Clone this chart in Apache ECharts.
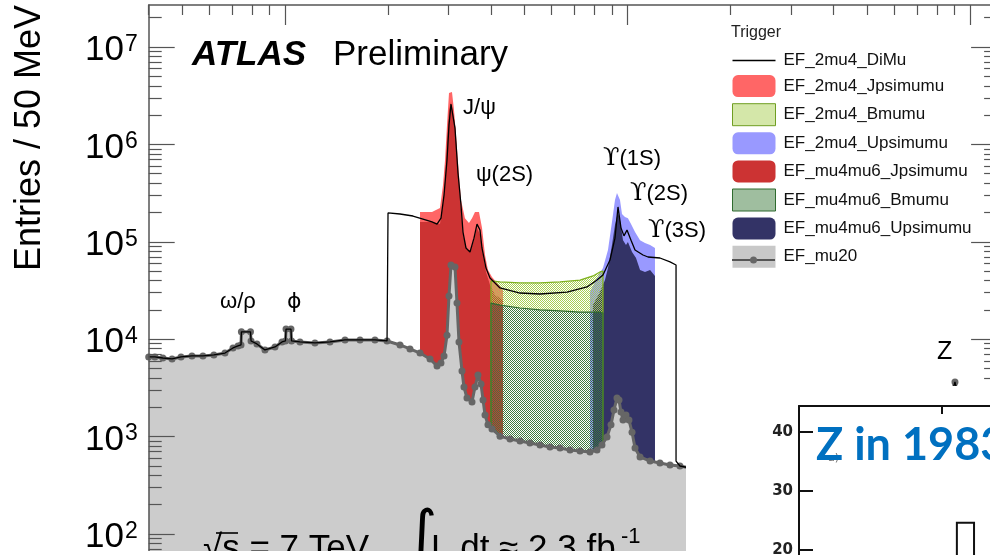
<!DOCTYPE html>
<html>
<head>
<meta charset="utf-8">
<title>Dimuon invariant mass spectrum by trigger</title>
<script src="https://cdn.jsdelivr.net/npm/echarts@6.0.0/dist/echarts.min.js"></script>
<style>
  html, body { margin: 0; padding: 0; background: #fff; }
  #chart { width: 990px; height: 555px; }
</style>
</head>
<body>
<div id="chart"></div>
<script>
// ---------------------------------------------------------------
// Dimuon invariant mass [GeV] vs entries / 50 MeV, one list per trigger
// ---------------------------------------------------------------
const efMu20 = [
  [0.40, 6570], [0.417, 6570], [0.440, 6410], [0.468, 6270], [0.497, 6570], [0.535, 6730],
  [0.576, 6730], [0.620, 6890], [0.668, 7210], [0.705, 8130], [0.729, 8520], [0.744, 8730],
  [0.746, 11900], [0.793, 11900], [0.796, 9590], [0.828, 8940], [0.874, 7750], [0.935, 8320],
  [0.980, 9370], [1.003, 9590], [1.007, 12700], [1.041, 12700], [1.045, 9590], [1.106, 9370],
  [1.223, 9150], [1.353, 9370], [1.497, 9820], [1.656, 9820], [1.831, 9820], [1.986, 9590],
  [2.167, 8730], [2.317, 7950], [2.479, 7210], [2.651, 6270], [2.779, 5310], [2.854, 5700],
  [2.913, 6730], [2.972, 11000], [3.012, 27800], [3.053, 57800], [3.136, 55100], [3.178, 23500],
  [3.221, 9370], [3.287, 4720], [3.331, 3230], [3.399, 2490], [3.516, 2270], [3.587, 3230],
  [3.660, 4280], [3.735, 3470], [3.786, 2380], [3.837, 1670], [3.914, 1320], [4.021, 1200],
  [4.244, 1010], [4.539, 944], [4.855, 901], [5.19, 859], [5.554, 819], [5.94, 782],
  [6.354, 764], [6.796, 728], [7.268, 711], [7.771, 695], [8.146, 728], [8.423, 819],
  [8.713, 991], [8.951, 1320], [9.133, 1880], [9.318, 2490], [9.445, 2380], [9.572, 1790],
  [9.703, 1480], [9.900, 1670], [10.10, 1480], [10.31, 1110], [10.52, 764], [10.88, 618],
  [11.64, 561], [12.44, 536], [13.31, 511], [14.23, 499], [15.22, 476], [18.6, 434],
  [24.4, 376], [31.9, 326], [44.6, 283], [58.4, 318], [71.5, 575], [81.7, 1170],
  [87.4, 2380], [90.4, 3640], [93.5, 2110], [98.7, 728], [107, 358], [120, 283]
];

const ef2mu4DiMu = [
  [0.40, 6570], [0.417, 6570], [0.440, 6410], [0.468, 6270], [0.497, 6570], [0.535, 6730],
  [0.576, 6730], [0.620, 6890], [0.668, 7210], [0.705, 8130], [0.729, 8520], [0.744, 8730],
  [0.746, 11900], [0.793, 11900], [0.796, 9590], [0.828, 8940], [0.874, 7750], [0.935, 8320],
  [0.980, 9370], [1.003, 9590], [1.007, 12700], [1.041, 12700], [1.045, 9590], [1.106, 9370],
  [1.223, 9150], [1.353, 9370], [1.497, 9820], [1.656, 9820], [1.831, 9820], [1.986, 9590],
  [1.999, 9590], [1.999, 198000], [2.167, 193000], [2.364, 184000], [2.529, 171000],
  [2.687, 160000], [2.779, 152000], [2.854, 175000], [2.913, 302000], [2.972, 692000],
  [3.012, 1580000], [3.053, 2600000], [3.094, 2600000], [3.136, 1470000], [3.200, 508000],
  [3.265, 239000], [3.309, 126000], [3.376, 86400], [3.469, 78600], [3.563, 109000],
  [3.636, 152000], [3.710, 132000], [3.760, 86400], [3.863, 53800], [3.968, 42500],
  [4.244, 33600], [4.855, 29800], [5.554, 29100], [6.66, 30500], [7.62, 34400],
  [8.146, 40500], [8.481, 45600], [8.889, 65000], [9.194, 109000], [9.382, 228000],
  [9.572, 139000], [9.768, 115000], [9.967, 132000], [10.24, 104000], [10.52, 82400],
  [11.10, 73200], [11.48, 69800], [12.44, 68200], [13.31, 62100], [13.86, 57800],
  [13.86, 561], [14.23, 499], [15.22, 476], [18.6, 434], [24.4, 376], [31.9, 326],
  [44.6, 283], [58.4, 318], [71.5, 575], [81.7, 1170], [87.4, 2380], [90.4, 3640],
  [93.5, 2110], [98.7, 728], [107, 358], [120, 283]
];

const ef2mu4Jpsimumu = [
  [2.479, 202000], [2.687, 202000], [2.835, 222000], [2.893, 383000], [2.933, 692000],
  [2.972, 1580000], [3.012, 3370000], [3.073, 3450000], [3.115, 2260000], [3.157, 1250000],
  [3.221, 485000], [3.265, 269000], [3.353, 175000], [3.445, 156000], [3.516, 175000],
  [3.587, 202000], [3.685, 202000], [3.760, 139000], [3.837, 73200], [3.914, 51300],
  [4.021, 43500], [4.159, 37800], [4.331, 32000]
];

const efMu4mu6Jpsimumu = [
  [2.479, 160000], [2.687, 160000], [2.835, 152000], [2.893, 239000], [2.933, 431000],
  [2.972, 1110000], [3.012, 2260000], [3.053, 2720000], [3.094, 2660000], [3.136, 1580000],
  [3.200, 521000], [3.265, 212000], [3.309, 118000], [3.399, 82400], [3.492, 82400],
  [3.563, 104000], [3.636, 139000], [3.710, 118000], [3.786, 73200], [3.863, 49000],
  [3.968, 36000], [4.104, 28400], [4.331, 25300]
];

const ef2mu4Upsimumu = [
  [7.771, 30500], [8.146, 42500], [8.481, 53800], [8.771, 82400], [9.010, 160000],
  [9.194, 269000], [9.318, 317000], [9.509, 269000], [9.637, 193000], [9.834, 180000],
  [10.03, 175000], [10.24, 152000], [10.52, 126000], [10.88, 104000], [11.25, 97200],
  [11.64, 92700], [12.03, 86400]
];

const efMu4mu6Upsimumu = [
  [7.930, 22400], [8.311, 30500], [8.596, 40500], [8.771, 53800], [9.010, 92700],
  [9.194, 149000], [9.382, 202000], [9.509, 167000], [9.703, 104000], [9.900, 92700],
  [10.03, 99500], [10.31, 78600], [10.59, 68200], [10.88, 51300], [11.25, 49000],
  [11.64, 51300], [12.03, 44600]
];

const ef2mu4Bmumu = [
  [3.995, 100], [3.995, 39600], [4.244, 38700], [4.855, 37800], [5.554, 37800],
  [6.354, 38700], [7.268, 40500], [7.930, 44600], [8.311, 49000], [8.481, 50100], [8.481, 100]
];

const efMu4mu6Bmumu = [
  [3.995, 100], [3.995, 23500], [4.244, 22400], [4.855, 20900], [5.554, 20000],
  [6.354, 19500], [7.268, 19000], [8.311, 19000], [8.481, 18600], [8.481, 100]
];

// Resonance names with the mass / entries level their label sits at
const resonanceLabels = [
  ['ω/ρ', 0.646, 24100],
  ['ϕ', 1.013, 24100],
  ['J/ψ', 3.31, 2390000],
  ['ψ(2S)', 3.61, 491000],
  ['ϒ(1S)', 8.48, 708000],
  ['ϒ(2S)', 10.17, 310000],
  ['ϒ(3S)', 11.48, 129000],
  ['Z', 80.1, 7290]
];

// Axis ticks
const yMajorTicks = [1e2, 1e3, 1e4, 1e5, 1e6, 1e7];
const yMajorExponents = ['2', '3', '4', '5', '6', '7'];
const xMajorTicks = [1, 10, 100];

// 1983 inset: tick values and one histogram bin [low, high, count]
const insetTicks = [0, 10, 20, 30, 40];
const insetBins = [[55.2, 61.2, 24.6]];

// ---------------------------------------------------------------
const MASS_MIN = 0.4, MASS_MAX = 120;
const Y_MIN = Math.pow(10, 1.8255), Y_MAX = Math.pow(10, 7.4312);
const FRAME = '#555';
const SANS = 'Liberation Sans';

// drawing order (higher z on top)
const Z_FILL = 2, Z_MU20 = 3, Z_DIMU = 4, Z_LABELS = 5, Z_AXES = 6, Z_TEXT = 20, Z_COVER = 21, Z_INSET = 30;

function minorLogTicks(lo, hi) {
  const out = [];
  for (let d = Math.floor(Math.log10(lo)); d <= Math.ceil(Math.log10(hi)); d++) {
    for (let k = 2; k <= 9; k++) {
      const v = +(k * Math.pow(10, d)).toPrecision(3);
      if (v >= lo && v <= hi) out.push(v);
    }
  }
  return out;
}
const yMinorTicks = minorLogTicks(Y_MIN, Y_MAX);
const xMinorTicks = minorLogTicks(MASS_MIN, MASS_MAX);

function exponentOf(v) {
  for (let i = 0; i < yMajorTicks.length; i++) {
    if (Math.abs(Math.log10(v) - Math.log10(yMajorTicks[i])) < 0.01) return yMajorExponents[i];
  }
  return '';
}

// fine checkerboard fills for the B-physics triggers
function checker(color) {
  const c = document.createElement('canvas');
  c.width = 2; c.height = 2;
  const g = c.getContext('2d');
  g.fillStyle = color;
  g.fillRect(0, 0, 1, 1);
  g.fillRect(1, 1, 1, 1);
  return { image: c, repeat: 'repeat' };
}
const bLight = checker('#a8cf52');
const bDark = checker('#3f7c3f');

function logAxis(extra) {
  return Object.assign({
    type: 'log', logBase: 10, gridIndex: 0, z: Z_AXES,
    splitLine: { show: false }, axisLabel: { show: false }
  }, extra);
}

function fillSeries(name, data, color) {
  return {
    name, type: 'line', data, color, z: Z_FILL, symbol: 'none', showSymbol: false, silent: true,
    lineStyle: { width: 0 }, areaStyle: { color, opacity: 1, origin: 'start' },
    emphasis: { disabled: true }
  };
}

const chart = echarts.init(document.getElementById('chart'), null, { renderer: 'canvas' });

chart.setOption({
  animation: false,
  backgroundColor: '#fff',
  grid: [
    { left: 148.7, top: 5, width: 848.4, height: 546, containLabel: false, outerBoundsMode: 'none' },
    { left: 799, top: 406, width: 286, height: 262, containLabel: false, outerBoundsMode: 'none' }
  ],
  title: {
    text: 'Trigger', left: 731, top: 25, padding: 0,
    textStyle: { fontSize: 16, fontWeight: 'normal', fontFamily: SANS, color: '#222' }
  },
  legend: {
    orient: 'vertical', left: 732, top: 52, padding: 0,
    itemWidth: 43, itemHeight: 22, itemGap: 6.1,
    selectedMode: false, symbolKeepAspect: true,
    textStyle: { fontSize: 17, fontFamily: SANS, color: '#111', padding: [0, 0, 0, 3] },
    data: [
      { name: 'EF_2mu4_DiMu', icon: 'path://M0,0H43V1.3H0Z', itemStyle: { color: '#000', borderWidth: 0 } },
      { name: 'EF_2mu4_Jpsimumu', icon: 'roundRect', itemStyle: { color: '#ff6666', borderWidth: 0 } },
      { name: 'EF_2mu4_Bmumu', icon: 'rect', itemStyle: { color: bLight, borderColor: '#6f9e22', borderWidth: 1 } },
      { name: 'EF_2mu4_Upsimumu', icon: 'roundRect', itemStyle: { color: '#9999ff', borderWidth: 0 } },
      { name: 'EF_mu4mu6_Jpsimumu', icon: 'roundRect', itemStyle: { color: '#cc3333', borderWidth: 0 } },
      { name: 'EF_mu4mu6_Bmumu', icon: 'rect', itemStyle: { color: bDark, borderColor: '#2f6b2f', borderWidth: 1 } },
      { name: 'EF_mu4mu6_Upsimumu', icon: 'roundRect', itemStyle: { color: '#333366', borderWidth: 0 } },
      { name: 'EF_mu20', icon: 'rect', itemStyle: { color: '#c8c8c8', borderWidth: 0 } }
    ]
  },
  xAxis: [
    logAxis({
      position: 'top', min: MASS_MIN, max: MASS_MAX,
      axisLine: { show: true, onZero: false, lineStyle: { color: FRAME, width: 1.5 } },
      axisTick: { show: true, inside: true, length: 20, customValues: xMajorTicks, lineStyle: { color: FRAME, width: 1.2 } }
    }),
    logAxis({
      position: 'top', min: MASS_MIN, max: MASS_MAX,
      axisLine: { show: false },
      axisTick: { show: true, inside: true, length: 10, customValues: xMinorTicks, lineStyle: { color: FRAME, width: 1.2 } }
    }),
    {
      type: 'value', gridIndex: 1, position: 'top', min: 0, max: 100, z: Z_INSET,
      axisLine: { show: true, onZero: false, lineStyle: { color: '#111', width: 2 } },
      axisTick: { show: true, inside: true, length: 8, customValues: [50], lineStyle: { color: '#111', width: 2 } },
      axisLabel: { show: false }, splitLine: { show: false }
    }
  ],
  yAxis: [
    logAxis({
      position: 'left', min: Y_MIN, max: Y_MAX,
      axisLine: { show: true, onZero: false, lineStyle: { color: FRAME, width: 1.5 } },
      axisTick: { show: true, inside: true, length: 26, customValues: yMajorTicks, lineStyle: { color: FRAME, width: 1.2 } },
      axisLabel: {
        show: true, customValues: yMajorTicks, margin: 11, padding: [7, 0, 0, 0],
        formatter: v => '{b|10}{e|' + exponentOf(v) + '}',
        rich: {
          b: { fontSize: 35, fontFamily: SANS, color: '#000', lineHeight: 35, verticalAlign: 'bottom' },
          e: { fontSize: 23, fontFamily: SANS, color: '#000', lineHeight: 17, verticalAlign: 'top', padding: [0, 0, 0, 1] }
        }
      }
    }),
    logAxis({
      position: 'left', min: Y_MIN, max: Y_MAX, axisLine: { show: false },
      axisTick: { show: true, inside: true, length: 13, customValues: yMinorTicks, lineStyle: { color: FRAME, width: 1.2 } }
    }),
    logAxis({
      position: 'right', min: Y_MIN, max: Y_MAX,
      axisLine: { show: true, onZero: false, lineStyle: { color: FRAME, width: 1.5 } },
      axisTick: { show: true, inside: true, length: 26, customValues: yMajorTicks, lineStyle: { color: FRAME, width: 1.2 } }
    }),
    logAxis({
      position: 'right', min: Y_MIN, max: Y_MAX, axisLine: { show: false },
      axisTick: { show: true, inside: true, length: 13, customValues: yMinorTicks, lineStyle: { color: FRAME, width: 1.2 } }
    }),
    {
      type: 'value', gridIndex: 1, position: 'left', min: 0, max: 44.4, z: Z_INSET,
      axisLine: { show: true, onZero: false, lineStyle: { color: '#111', width: 2 } },
      axisTick: { show: true, inside: true, length: 14, customValues: insetTicks, lineStyle: { color: '#111', width: 2 } },
      axisLabel: { show: true, customValues: insetTicks, margin: 6, color: '#222', fontFamily: 'DejaVu Sans', fontWeight: 'bold', fontSize: 15 },
      splitLine: { show: false }
    }
  ],
  series: [
    fillSeries('EF_2mu4_Jpsimumu', ef2mu4Jpsimumu, '#ff6666'),
    fillSeries('EF_mu4mu6_Jpsimumu', efMu4mu6Jpsimumu, '#cc3333'),
    fillSeries('EF_2mu4_Upsimumu', ef2mu4Upsimumu, '#9999ff'),
    fillSeries('EF_mu4mu6_Upsimumu', efMu4mu6Upsimumu, '#333366'),
    {
      name: 'EF_2mu4_Bmumu', type: 'line', data: ef2mu4Bmumu, color: '#7fb21f', z: Z_FILL,
      symbol: 'none', showSymbol: false, silent: true, emphasis: { disabled: true },
      lineStyle: { color: '#7fb21f', width: 1.3 }, areaStyle: { color: bLight, opacity: 1, origin: 'start' }
    },
    {
      name: 'EF_mu4mu6_Bmumu', type: 'line', data: efMu4mu6Bmumu, color: '#2f6b2f', z: Z_FILL,
      symbol: 'none', showSymbol: false, silent: true, emphasis: { disabled: true },
      lineStyle: { color: '#2f6b2f', width: 1.2 }, areaStyle: { color: bDark, opacity: 1, origin: 'start' }
    },
    {
      name: 'EF_mu20', type: 'line', data: efMu20, color: '#666', z: Z_MU20,
      symbol: 'circle', symbolSize: 7, showSymbol: true, silent: true, emphasis: { disabled: true },
      itemStyle: { color: '#666' },
      lineStyle: { color: '#666', width: 3 },
      areaStyle: { color: '#cccccc', opacity: 1, origin: 'start' }
    },
    {
      name: 'EF_2mu4_DiMu', type: 'line', data: ef2mu4DiMu, color: '#000', z: Z_DIMU,
      symbol: 'none', showSymbol: false, silent: true, emphasis: { disabled: true },
      lineStyle: { color: '#000', width: 1.3 }
    },
    {
      name: 'resonances', type: 'custom', xAxisIndex: 0, yAxisIndex: 0, z: Z_LABELS, silent: true,
      data: resonanceLabels.map(r => [r[1], r[2]]),
      encode: { x: 0, y: 1 },
      renderItem: (params, api) => {
        const lab = resonanceLabels[params.dataIndex];
        const p = api.coord([api.value(0), api.value(1)]);
        if (lab[0].charAt(0) === 'ϒ') {
          return {
            type: 'text', x: p[0], y: p[1],
            style: {
              text: '{u|ϒ}{s|' + lab[0].slice(1) + '}',
              rich: {
                u: { font: '24px "DejaVu Serif"', fill: '#000' },
                s: { font: '22px "' + SANS + '"', fill: '#000' }
              },
              align: 'left', verticalAlign: 'middle'
            }
          };
        }
        const size = lab[0] === 'Z' ? 25 : 22;
        const family = lab[0] === 'ϕ' ? 'DejaVu Sans' : SANS;
        return {
          type: 'text', x: p[0], y: p[1],
          style: { text: lab[0], font: size + 'px "' + family + '"', fill: '#000', align: 'left', verticalAlign: 'middle' }
        };
      }
    },
    {
      name: 'inset', type: 'custom', xAxisIndex: 2, yAxisIndex: 4, z: Z_INSET, silent: true,
      data: insetBins, encode: { x: [0, 1], y: 2 },
      renderItem: (params, api) => {
        const a = api.coord([api.value(0), api.value(2)]);
        const b = api.coord([api.value(1), 0]);
        return {
          type: 'rect',
          shape: { x: a[0], y: a[1], width: b[0] - a[0], height: b[1] - a[1] },
          style: { fill: 'none', stroke: '#111', lineWidth: 2 }
        };
      }
    }
  ],
  graphic: [
    { type: 'text', x: 30, y: 138, rotation: Math.PI / 2, z: Z_TEXT,
      style: { text: 'Entries / 50 MeV', font: '36px "' + SANS + '"', fill: '#000', align: 'center', verticalAlign: 'middle' } },
    { type: 'text', x: 192, y: 55, z: Z_TEXT,
      style: { text: 'ATLAS', font: 'italic bold 35px "' + SANS + '"', fill: '#000', align: 'left', verticalAlign: 'middle' } },
    { type: 'text', x: 333, y: 55, z: Z_TEXT,
      style: { text: 'Preliminary', font: '35px "' + SANS + '"', fill: '#000', align: 'left', verticalAlign: 'middle' } },
    // centre-of-mass energy and integrated luminosity
    { type: 'text', x: 203, y: 549, z: Z_TEXT,
      style: { text: '√s = 7 TeV', font: '35px "' + SANS + '"', fill: '#000', align: 'left', verticalAlign: 'middle' } },
    { type: 'line', z: Z_TEXT, shape: { x1: 216, y1: 533, x2: 238, y2: 533 }, style: { stroke: '#000', lineWidth: 1.6 } },
    { type: 'text', x: 406, y: 507, z: Z_TEXT,
      style: { text: '∫', font: '60px "DejaVu Sans"', fill: '#000', align: 'left', verticalAlign: 'top' } },
    { type: 'text', x: 431, y: 549, z: Z_TEXT,
      style: { text: 'L dt ≈ 2.3 fb', font: '35px "' + SANS + '"', fill: '#000', align: 'left', verticalAlign: 'middle' } },
    { type: 'text', x: 621, y: 537, z: Z_TEXT,
      style: { text: '-1', font: '22px "' + SANS + '"', fill: '#000', align: 'left', verticalAlign: 'middle' } },
    { type: 'rect', z: Z_COVER, silent: true, shape: { x: 0, y: 551, width: 686, height: 4 }, style: { fill: '#fff' } },
    { type: 'rect', z: Z_COVER, silent: true, shape: { x: 686, y: 386, width: 304, height: 169 }, style: { fill: '#fff' } },
    { type: 'line', z: Z_INSET, shape: { x1: 732, y1: 260, x2: 775, y2: 260 }, style: { stroke: '#555', lineWidth: 2 } },
    { type: 'circle', z: Z_INSET, shape: { cx: 753.5, cy: 260, r: 3.5 }, style: { fill: '#666' } },
    { type: 'text', x: 828, y: 458, z: Z_INSET,
      style: { text: 'a)', font: '11px "DejaVu Sans"', fill: '#666', align: 'left', verticalAlign: 'middle' } },
    { type: 'text', x: 816, y: 445, z: Z_INSET + 2,
      style: { text: 'Z in 1983', font: 'bold 45px Lato', fill: '#0070c0', align: 'left', verticalAlign: 'middle' } }
  ]
});
</script>
</body>
</html>
